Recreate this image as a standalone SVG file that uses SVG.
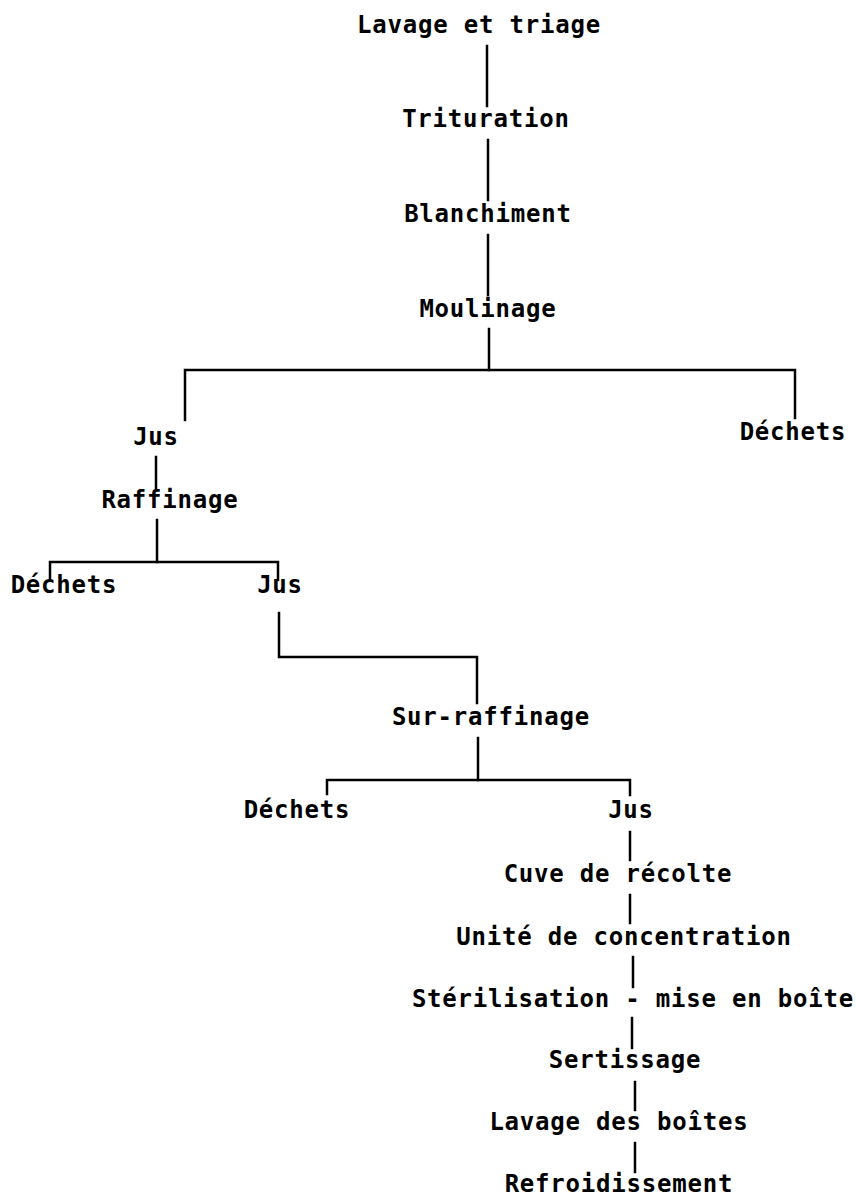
<svg xmlns="http://www.w3.org/2000/svg" width="856" height="1197" viewBox="0 0 856 1197">
<style>
text{font-family:"DejaVu Sans Mono","Liberation Mono",monospace;font-size:24px;font-weight:bold;letter-spacing:0.8px;text-anchor:middle;fill:#000}
.c{fill:none;stroke:#000;stroke-width:2.5;stroke-linecap:square}
</style>
<rect width="856" height="1197" fill="#fff"/>
<g id="connectors" class="c">
<path d="M487 46V106"/>
<path d="M488 140V200"/>
<path d="M488 235V295"/>
<path d="M489 329V370"/>
<path d="M185 420V370H795V418"/>
<path d="M156 457V490"/>
<path d="M157 520V562"/>
<path d="M50 580V562H278V580"/>
<path d="M279 613V657H477V703"/>
<path d="M478 738V780"/>
<path d="M327 794V780H630V795"/>
<path d="M630 832V860"/>
<path d="M630 895V923"/>
<path d="M633 957V987"/>
<path d="M632 1018V1048"/>
<path d="M635 1082V1110"/>
<path d="M635 1143V1172"/>
</g>
<g id="n1"><text x="479" y="33">Lavage et triage</text></g>
<g id="n2"><text x="486" y="127">Trituration</text></g>
<g id="n3"><text x="488" y="222">Blanchiment</text></g>
<g id="n4"><text x="488" y="317">Moulinage</text></g>
<g id="n5"><text x="156" y="445">Jus</text></g>
<g id="n6"><text x="793" y="440">Déchets</text></g>
<g id="n7"><text x="170" y="508">Raffinage</text></g>
<g id="n8"><text x="64" y="593">Déchets</text></g>
<g id="n9"><text x="280" y="593">Jus</text></g>
<g id="n10"><text x="491" y="725">Sur-raffinage</text></g>
<g id="n11"><text x="297" y="818">Déchets</text></g>
<g id="n12"><text x="631" y="818">Jus</text></g>
<g id="n13"><text x="618" y="882">Cuve de récolte</text></g>
<g id="n14"><text x="624" y="945">Unité de concentration</text></g>
<g id="n15"><text x="633" y="1007">Stérilisation - mise en boîte</text></g>
<g id="n16"><text x="625" y="1068">Sertissage</text></g>
<g id="n17"><text x="619" y="1130">Lavage des boîtes</text></g>
<g id="n18"><text x="619" y="1192">Refroidissement</text></g>
</svg>
